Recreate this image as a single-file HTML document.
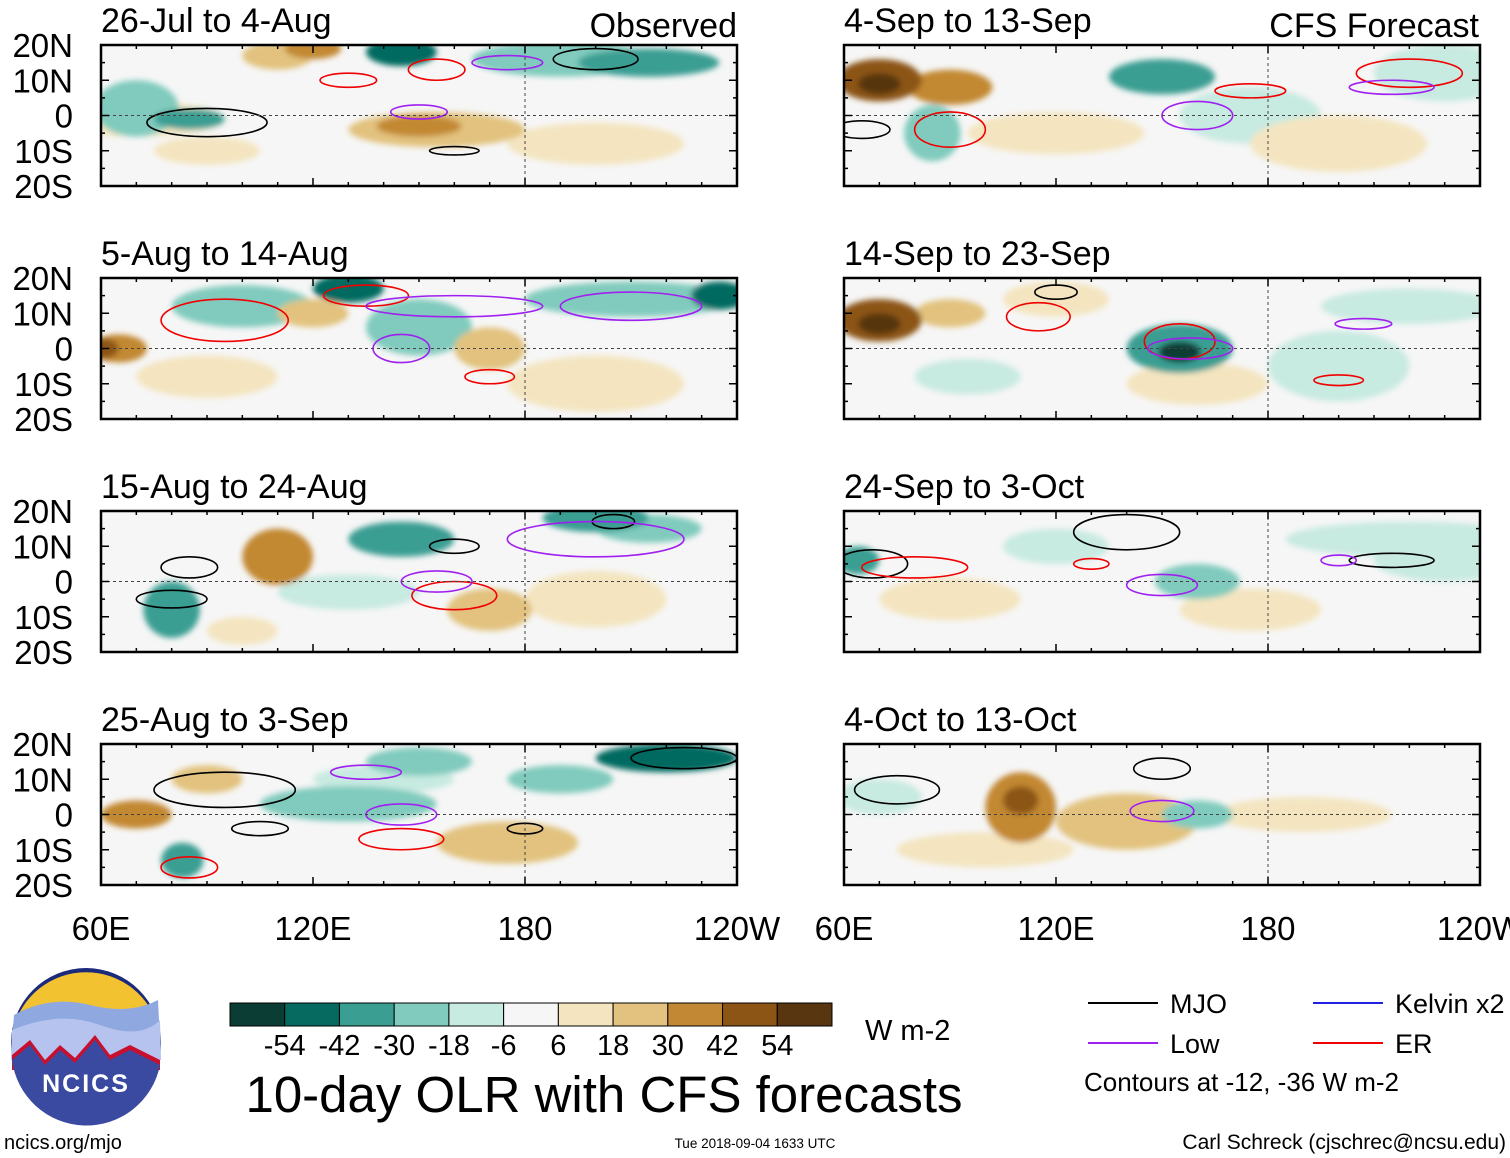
<!DOCTYPE html>
<html><head><meta charset="utf-8">
<style>
body{margin:0;background:#fff;width:1510px;height:1158px;overflow:hidden;font-family:"Liberation Sans",sans-serif;}
svg{display:block}
</style></head>
<body>
<svg id="chart" width="1510" height="1158" viewBox="0 0 1510 1158">
<defs>
<filter id="soft" x="-20%" y="-20%" width="140%" height="140%"><feGaussianBlur stdDeviation="3"/></filter>
<clipPath id="clipL"><rect x="0" y="0" width="636" height="141"/></clipPath>
</defs>
<g id="panels"></g>
<g id="legend-area"></g>
</svg>
<script>
// colorbar data
const levels = [-54,-42,-30,-18,-6,6,18,30,42,54];
const colors = ["#0b3d35","#066a60","#3a9e93","#80cbbd","#c7eae1","#f6f6f6","#f4e5c0","#e2c27e","#c28833","#8c5415","#573610"];
// panel titles
const titles = ["26-Jul to 4-Aug","5-Aug to 14-Aug","15-Aug to 24-Aug","25-Aug to 3-Sep","4-Sep to 13-Sep","14-Sep to 23-Sep","24-Sep to 3-Oct","4-Oct to 13-Oct"];
const latTicks = ["20N","10N","0","10S","20S"];
const lonTicks = ["60E","120E","180","120W"];
// anomaly blobs per panel: [lon, lat, lonRadius, latRadius, colorIndex]
const blobs = [
 [[70,-1,25,5,6],[70,2,12,8,3],[85,-1,10,3,2],[155,-4,25,5,7],[150,-3,12,3,8],[145,18,10,4,1],[190,16,25,5,3],[215,15,20,4,2],[110,17,10,4,7],[120,19,8,3,8],[90,-10,15,4,6],[200,-8,25,6,6]],
 [[65,0,8,4,8],[60,0,5,3,9],[100,12,20,6,3],[130,17,10,4,1],[150,6,15,8,3],[210,14,30,5,3],[235,15,8,4,1],[170,0,10,6,7],[90,-8,20,6,6],[200,-10,25,8,6],[120,10,10,4,7]],
 [[80,-8,8,8,2],[110,7,10,8,8],[170,-8,12,6,7],[145,12,15,5,2],[200,18,15,4,2],[215,15,15,4,3],[130,-3,20,5,4],[100,-14,10,4,6],[200,-5,20,8,6]],
 [[70,0,10,4,8],[90,10,10,4,7],[130,3,25,5,3],[140,10,20,4,4],[220,16,20,4,1],[190,10,15,4,3],[150,15,15,4,3],[83,-13,6,5,2],[175,-8,20,6,7]],
 [[70,10,12,6,9],[70,9,6,3,10],[90,8,12,5,8],[150,11,15,5,2],[175,0,20,8,4],[230,12,20,8,4],[85,-5,8,8,3],[200,-8,25,8,6],[120,-5,25,6,6]],
 [[70,8,12,6,9],[70,7,6,3,10],[90,10,10,4,7],[155,0,15,7,2],[155,-1,6,3,0],[200,-5,20,10,4],[220,12,25,5,4],[120,14,15,5,6],[95,-8,15,5,4],[160,-10,20,6,6]],
 [[64,6,6,4,2],[120,10,15,5,4],[160,0,12,5,3],[220,12,35,5,4],[230,6,20,6,4],[175,-8,20,6,6],[90,-5,20,6,6]],
 [[70,5,12,5,4],[110,2,10,10,8],[110,4,5,4,9],[140,-2,20,8,7],[160,0,10,4,3],[100,-10,25,5,6],[190,0,25,5,6]]
];
// contours: [lon, lat, lonRadius, latRadius, type]  type:0 MJO,1 Low,3 ER
const contours = [
 [[90,-2,17,4,0],[160,-10,7,1.2,0],[150,1,8,2,1],[130,10,8,2,3],[200,16,12,3,0],[155,13,8,3,3],[175,15,10,2,1]],
 [[95,8,18,6,3],[135,15,12,3,3],[145,0,8,4,1],[170,-8,7,2,3],[160,12,25,3,1],[210,12,20,4,1]],
 [[80,-5,10,2.5,0],[85,4,8,3,0],[160,10,7,2,0],[205,17,6,2,0],[160,-4,12,4,3],[155,0,10,3,1],[200,12,25,5,1]],
 [[95,7,20,5,0],[105,-4,8,2,0],[145,0,10,3,1],[145,-7,12,3,3],[85,-15,8,3,3],[225,16,15,3,0],[180,-4,5,1.5,0],[135,12,10,2,1]],
 [[65,-4,8,2.5,0],[90,-4,10,5,3],[160,0,10,4,1],[175,7,10,2,3],[220,12,15,4,3],[215,8,12,2,1]],
 [[115,9,9,4,3],[120,16,6,2,0],[155,2,10,5,3],[158,0,12,3,1],[200,-9,7,1.5,3],[207,7,8,1.5,1]],
 [[68,5,10,4,0],[80,4,15,3,3],[140,14,15,5,0],[150,-1,10,3,1],[215,6,12,2,0],[200,6,5,1.5,1],[130,5,5,1.5,3]],
 [[75,7,12,4,0],[150,1,9,3,1],[150,13,8,3,0]]
];
const cColors = ["#000","#a020f0","#2020e0","#f00000"];
const NS="http://www.w3.org/2000/svg";
function el(tag,attrs,parent){const e=document.createElementNS(NS,tag);for(const k in attrs)e.setAttribute(k,attrs[k]);parent.appendChild(e);return e;}
const panelsG=document.getElementById('panels');
const PX=[101,844], PY=[45,278,511,744], PW=636, PH=141;
function xs(lon){return (lon-60)/180*PW;}
function ys(lat){return (20-lat)/40*PH;}
for(let p=0;p<8;p++){
  const col=p<4?0:1,row=p%4;
  const g=el('g',{transform:`translate(${PX[col]},${PY[row]})`},panelsG);
  
  
  el('rect',{x:0,y:0,width:PW,height:PH,fill:"#f6f6f6"},g);
  const bg=el('g',{'clip-path':'url(#clipL)',filter:'url(#soft)'},g);
  const sorted=blobs[p].slice().sort((a,b)=>Math.abs(a[4]-5)-Math.abs(b[4]-5));
  sorted.forEach(b=>{
    const e=el('ellipse',{cx:xs(b[0]),cy:ys(b[1]),rx:b[2]/180*PW,ry:b[3]/40*PH,fill:colors[b[4]]},bg);
    
    
  });
  const cg=el('g',{'clip-path':'url(#clipL)'},g);
  contours[p].forEach(c=>{
    const e=el('ellipse',{cx:xs(c[0]),cy:ys(c[1]),rx:c[2]/180*PW,ry:c[3]/40*PH,fill:"none",stroke:cColors[c[4]],'stroke-width':1.6},cg);
    
    
  });
  el('line',{x1:0,x2:PW,y1:ys(0),y2:ys(0),stroke:"#444",'stroke-dasharray':"3,3",'stroke-width':1},g);
  el('line',{x1:xs(180),x2:xs(180),y1:0,y2:PH,stroke:"#444",'stroke-dasharray':"3,3",'stroke-width':1},g);
  el('rect',{x:0,y:0,width:PW,height:PH,fill:"none",stroke:"#000",'stroke-width':2.5},g);
  for(let lon=60;lon<=240;lon+=10){const x=xs(lon),L=(lon%60==0)?8:4;
    el('line',{x1:x,x2:x,y1:0,y2:L,stroke:"#000",'stroke-width':1.5},g);
    el('line',{x1:x,x2:x,y1:PH,y2:PH-L,stroke:"#000",'stroke-width':1.5},g);}
  for(let lat=-20;lat<=20;lat+=5){const y=ys(lat),L=(lat%10==0)?8:4;
    el('line',{x1:0,x2:L,y1:y,y2:y,stroke:"#000",'stroke-width':1.5},g);
    el('line',{x1:PW,x2:PW-L,y1:y,y2:y,stroke:"#000",'stroke-width':1.5},g);}
  const t=el('text',{x:0,y:-13,'font-size':34},g);t.textContent=titles[p];
  
  
  if(col==0){latTicks.forEach((s,i)=>{const tt=el('text',{x:-28,y:ys(20-i*10)+12,'font-size':33,'text-anchor':'end'},g);tt.textContent=s;
    
    });}
  if(row==3){lonTicks.forEach((s,i)=>{const tt=el('text',{x:xs(60+i*60),y:PH+55,'font-size':33,'text-anchor':'middle'},g);tt.textContent=s;
    
    });}
}
const topL=el('text',{x:737,y:37,'font-size':34,'text-anchor':'end'},panelsG);topL.textContent="Observed";


const topR=el('text',{x:1479,y:37,'font-size':34,'text-anchor':'end'},panelsG);topR.textContent="CFS Forecast";



const lg=document.getElementById('legend-area');
const cb=el('g',{},lg);


const cbX=230,cbW=602,cbY=1003,cbH=23,bw=cbW/colors.length;
colors.forEach((c,i)=>{el('rect',{x:cbX+i*bw,y:cbY,width:bw,height:cbH,fill:c,stroke:"#000",'stroke-width':1},cb);});
levels.forEach((v,i)=>{const t=el('text',{x:cbX+(i+1)*bw,y:1055,'font-size':29,'text-anchor':'middle'},cb);t.textContent=v;
  
  });
const u=el('text',{x:865,y:1040,'font-size':29},lg);u.textContent="W m-2";


const ti=el('text',{x:604,y:1112,'font-size':51,'text-anchor':'middle'},lg);ti.textContent="10-day OLR with CFS forecasts";


const leg=[["MJO",1088,1003,0],["Low",1088,1043,1],["Kelvin x2",1313,1003,2],["ER",1313,1043,3]];
leg.forEach(l=>{const g=el('g',{},lg);
  
  
  el('line',{x1:l[1],x2:l[1]+70,y1:l[2],y2:l[2],stroke:cColors[l[3]],'stroke-width':2},g);
  const t=el('text',{x:l[1]+82,y:l[2]+10,'font-size':27},g);t.textContent=l[0];});
const ct=el('text',{x:1084,y:1091,'font-size':26},lg);ct.textContent="Contours at -12, -36 W m-2";


const f1=el('text',{x:4,y:1149,'font-size':20},lg);f1.textContent="ncics.org/mjo";


const f2=el('text',{x:755,y:1148,'font-size':13.5,'text-anchor':'middle'},lg);f2.textContent="Tue 2018-09-04 1633 UTC";


const f3=el('text',{x:1506,y:1149,'font-size':21,'text-anchor':'end'},lg);f3.textContent="Carl Schreck (cjschrec@ncsu.edu)";


const logo=el('g',{},lg);


el('circle',{cx:86,cy:1043,r:75,fill:"#1b2a7a"},logo);
el('path',{d:"M13,1030 A75,75 0 0 1 159,1030 Z",fill:"#f2c230"},logo);
el('path',{d:"M14,1015 Q50,995 90,1005 T158,1000 L160,1040 L12,1040 Z",fill:"#8fa8e0"},logo);
el('path',{d:"M12,1030 Q60,1010 100,1025 T160,1020 L161,1060 L11,1060 Z",fill:"#b6c3ee"},logo);
el('path',{d:"M12,1055 L30,1040 L45,1060 L60,1045 L75,1058 L95,1035 L110,1055 L130,1045 L160,1060 L160,1070 L12,1070 Z",fill:"#c8102e"},logo);
el('path',{d:"M12,1060 L30,1045 L45,1065 L60,1050 L75,1063 L95,1040 L110,1060 L130,1050 L160,1065 A75,75 0 0 1 12,1060 Z",fill:"#3a4aa0"},logo);
const lt=el('text',{x:86,y:1092,'font-size':25,'font-weight':'bold',fill:"#fff",'text-anchor':'middle','letter-spacing':2},logo);lt.textContent="NCICS";
</script>
</body></html>
